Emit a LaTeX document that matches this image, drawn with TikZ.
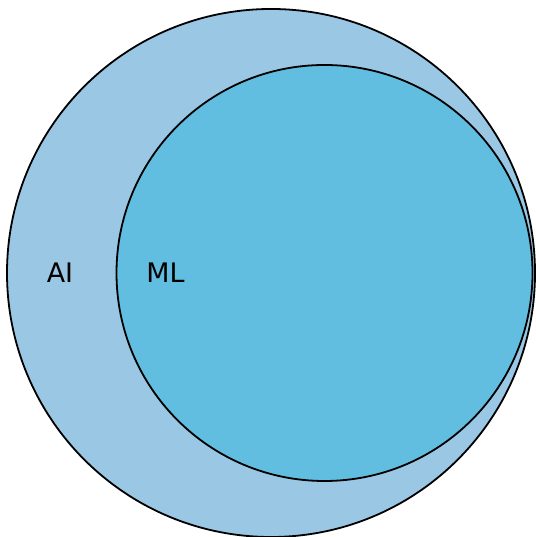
\documentclass[tikz,border=0pt]{standalone}
\usepackage{fontspec}
\setmainfont{DejaVu Sans}
\usepackage{tikz}
\definecolor{aifill}{RGB}{154,200,228}
\definecolor{mlfill}{RGB}{98,190,224}
\tikzset{
  setcircle/.style={circle,draw=black,line width=1.8bp,inner sep=0pt},
  setlabel/.style={font=\fontsize{27}{30}\selectfont,inner sep=0pt}
}

\begin{document}
\begin{tikzpicture}[x=1bp,y=1bp]
  \useasboundingbox (0,0) rectangle (536,537);
  % the two sets
  \node[setcircle,fill=aifill,minimum size=528bp] (ai) at (271,264) {};
  \node[setcircle,fill=mlfill,minimum size=416bp] (ml) at (324.5,264) {};

  % set names
  \node[setlabel] (ailabel) at (60,264) {AI};
  \node[setlabel] (mllabel) at (165.5,264) {ML};
\end{tikzpicture}
\end{document}
